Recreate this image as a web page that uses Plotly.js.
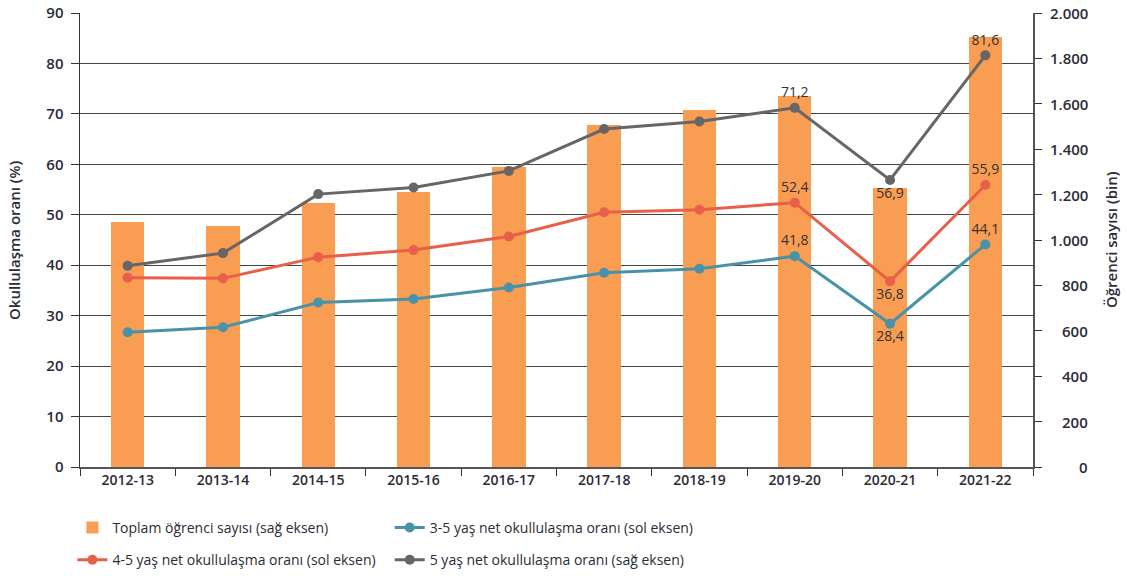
<!DOCTYPE html>
<html>
<head>
<meta charset="utf-8">
<script src="https://cdn.plot.ly/plotly-3.0.1.min.js"></script>
<style>
  html, body { margin: 0; padding: 0; background: #ffffff; }
  #chart { width: 1127px; height: 576px; }
</style>
</head>
<body>
<div id="chart"></div>
<script>
// ---- Data ----
const categories = ["2012-13", "2013-14", "2014-15", "2015-16", "2016-17", "2017-18", "2018-19", "2019-20", "2020-21", "2021-22"];
const totalStudents = [1079, 1063, 1164, 1210, 1320, 1505, 1571, 1636, 1230, 1893]; // bin (right axis)
const rate35 = [26.7, 27.7, 32.6, 33.3, 35.6, 38.5, 39.3, 41.8, 28.4, 44.1];
const rate45 = [37.5, 37.4, 41.6, 43.0, 45.7, 50.5, 51.0, 52.4, 36.8, 55.9];
const rate5 = [39.9, 42.4, 54.1, 55.4, 58.7, 67.0, 68.5, 71.2, 56.9, 81.6];
const labelFrom = 7; // points from this index on carry value labels
const leftTicks = [0, 10, 20, 30, 40, 50, 60, 70, 80, 90];
const rightTicks = [0, 200, 400, 600, 800, 1000, 1200, 1400, 1600, 1800, 2000];

const names = {
  bars: "Toplam öğrenci sayısı (sağ eksen)",
  r35: "3-5 yaş net okullulaşma oranı (sol eksen)",
  r45: "4-5 yaş net okullulaşma oranı (sol eksen)",
  r5: "5 yaş net okullulaşma oranı (sağ eksen)"
};

const FONT = "'Open Sans', Lato, 'DejaVu Sans', sans-serif";
const TXT = "#2b2b38";

function fmtComma(v) { return v.toFixed(1).replace(".", ","); }
function fmtThousands(v) {
  if (v >= 1000) return Math.floor(v / 1000) + "." + String(v % 1000).padStart(3, "0");
  return String(v);
}
function labels(arr) { return arr.map((v, i) => i >= labelFrom ? fmtComma(v) : ""); }
function positions(arr, pos) { return arr.map((v, i) => pos[i] || "top center"); }

const posPattern = { 7: "top center", 8: "bottom center", 9: "top center" };

function lineTrace(vals, name, color, group, legend) {
  return {
    type: "scatter", mode: "lines+markers+text",
    x: categories, y: vals, yaxis: "y2",
    name: name, legend: legend, legendgroup: group,
    line: { color: color, width: 3 },
    marker: { color: color, size: 10 },
    text: labels(vals),
    textposition: positions(vals, posPattern),
    textfont: { family: FONT, size: 14, color: "#333333" },
    cliponaxis: false,
    hoverinfo: "x+y"
  };
}

const traces = [
  {
    type: "bar", x: categories, y: totalStudents, yaxis: "y",
    name: names.bars, legend: "legend", legendgroup: "g1",
    marker: { color: "#F89D52" }, width: 0.35
  },
  lineTrace(rate45, names.r45, "#E8604A", "g2", "legend"),
  lineTrace(rate35, names.r35, "#4A92A8", "g3", "legend2"),
  lineTrace(rate5, names.r5, "#666666", "g4", "legend2")
];

const annotations = rightTicks.map(v => ({
  xref: "paper", x: 1, xanchor: "right", xshift: 57,
  yref: "y", y: v, yanchor: "middle",
  text: fmtThousands(v), showarrow: false,
  font: { family: FONT, size: 15, color: TXT, weight: 600 }
}));
annotations.push({
  xref: "paper", x: 1, xshift: 78, xanchor: "center",
  yref: "paper", y: 0.5, yanchor: "middle",
  text: "Öğrenci sayısı (bin)", textangle: -90, showarrow: false,
  font: { family: FONT, size: 15, color: TXT, weight: 600 }
});
annotations.push({
  xref: "paper", x: 0, xshift: -66, xanchor: "center",
  yref: "paper", y: 0.5, yanchor: "middle",
  text: "Okullulaşma oranı (%)", textangle: -90, showarrow: false,
  font: { family: FONT, size: 15, color: TXT, weight: 600 }
});

const legendCommon = {
  orientation: "v", yanchor: "top", y: -0.099,
  traceorder: "grouped", tracegroupgap: 11,
  font: { family: FONT, size: 14, color: TXT },
  bgcolor: "rgba(0,0,0,0)"
};

const layout = {
  width: 1127, height: 576,
  margin: { l: 80, r: 94, t: 13, b: 109, autoexpand: false },
  paper_bgcolor: "#ffffff", plot_bgcolor: "#ffffff",
  font: { family: FONT, size: 14, color: TXT },
  showlegend: true,
  legend: Object.assign({}, legendCommon, { x: -0.008, xanchor: "left" }),
  legend2: Object.assign({}, legendCommon, { x: 0.325, xanchor: "left" }),
  xaxis: {
    type: "category", range: [-0.5, 9.5],
    tickson: "boundaries", ticks: "outside", ticklen: 7, tickcolor: "#333",
    showline: true, linecolor: "#555", linewidth: 1.5,
    showgrid: false, zeroline: false,
    tickfont: { family: FONT, size: 14, color: TXT, weight: 600 }
  },
  yaxis: {
    side: "right", range: [0, 2000],
    tickvals: rightTicks, ticks: "outside", ticklen: 7, tickcolor: "#333",
    showticklabels: false,
    showline: true, linecolor: "#555", linewidth: 1.5,
    showgrid: false, zeroline: false
  },
  yaxis2: {
    overlaying: "y", side: "left", range: [0, 90],
    tickvals: leftTicks, ticks: "outside", ticklen: 8, tickcolor: "#333",
    showline: true, linecolor: "#333", linewidth: 1.5,
    showgrid: true, gridcolor: "#444", gridwidth: 1,
    zeroline: false,
    ticklabelstandoff: 4,
    tickfont: { family: FONT, size: 15, color: TXT, weight: 600 }
  },
  annotations: annotations,
  bargap: 0
};

Plotly.newPlot("chart", traces, layout, { displayModeBar: false, staticPlot: true });
</script>
</body>
</html>
